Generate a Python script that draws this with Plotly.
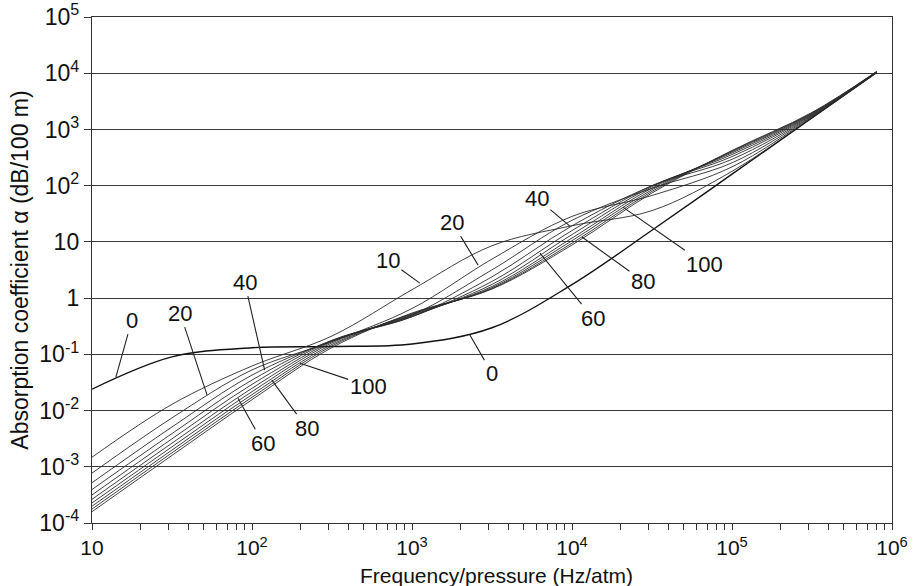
import numpy as np
import plotly.graph_objects as go

# Frequency/pressure (Hz/atm) sample points
freq = [10, 31.6, 100, 316, 1000, 3160, 1e4, 3.16e4, 1e5, 3.16e5, 8e5]

# Relative humidity (%) of each curve
humidity = [0, 10, 20, 30, 40, 50, 60, 70, 80, 90, 100]

# Absorption coefficient (dB/100 m)
rh0 = [0.024, 0.090, 0.131, 0.138, 0.153, 0.297, 1.74, 16.1, 160, 1600, 10200]
rh10 = [1.48e-3, 0.0129, 0.062, 0.212, 1.41, 8.54, 19.4, 36.0, 180, 1620, 10200]
rh20 = [7.7e-4, 7.4e-3, 0.0528, 0.169, 0.653, 4.94, 28.4, 66.9, 216, 1655, 10300]
rh30 = [5.2e-4, 5.1e-3, 0.0427, 0.175, 0.500, 3.18, 24.2, 89.7, 255, 1698, 10300]
rh40 = [3.94e-4, 3.89e-3, 0.0349, 0.178, 0.466, 2.39, 19.3, 99.6, 294, 1741, 10400]
rh50 = [3.16e-4, 3.14e-3, 0.0292, 0.175, 0.467, 1.98, 15.9, 100, 329, 1786, 10400]
rh60 = [2.64e-4, 2.63e-3, 0.0249, 0.168, 0.481, 1.75, 13.5, 96.2, 358, 1831, 10500]
rh70 = [2.27e-4, 2.26e-3, 0.0217, 0.160, 0.498, 1.61, 11.7, 90.6, 382, 1875, 10500]
rh80 = [1.99e-4, 1.98e-3, 0.0192, 0.150, 0.515, 1.53, 10.5, 84.7, 400, 1919, 10600]
rh90 = [1.77e-4, 1.77e-3, 0.0172, 0.141, 0.530, 1.48, 9.5, 79.1, 413, 1962, 10600]
rh100 = [1.59e-4, 1.59e-3, 0.0156, 0.132, 0.542, 1.45, 8.8, 74.1, 422, 2003, 10700]

series = [rh0, rh10, rh20, rh30, rh40, rh50, rh60, rh70, rh80, rh90, rh100]

# Tick labels
x_tickvals = [10, 1e2, 1e3, 1e4, 1e5, 1e6]
x_ticktext = ["10", "10<sup>2</sup>", "10<sup>3</sup>", "10<sup>4</sup>", "10<sup>5</sup>", "10<sup>6</sup>"]
y_tickvals = [1e-4, 1e-3, 1e-2, 1e-1, 1, 10, 1e2, 1e3, 1e4, 1e5]
y_ticktext = ["10<sup>-4</sup>", "10<sup>-3</sup>", "10<sup>-2</sup>", "10<sup>-1</sup>", "1", "10",
              "10<sup>2</sup>", "10<sup>3</sup>", "10<sup>4</sup>", "10<sup>5</sup>"]

# Curve labels: text, leader tip (freq, alpha), text offset in pixels
label_text = ["0", "20", "40", "60", "80", "100", "0", "10", "20", "40", "80", "60", "100"]
label_f = [14.1, 52.4, 120, 81.8, 133, 200, 2300, 1120, 2590, 9700, 11550, 6310, 20800]
label_a = [0.0394, 0.0188, 0.0524, 0.0166, 0.0348, 0.0697, 0.220, 1.85, 3.86, 19.1, 12.2, 6.3, 41.6]
label_dx = [16, -27, -20, 25, 35, 68, 22, -32, -26, -33, 61, 53, 82]
label_dy = [-57, -82, -88, 45, 48, 23, 38, -23, -43, -28, 44, 65, 57]

fig = go.Figure()
for h, vals in zip(humidity, series):
    fig.add_trace(go.Scatter(
        x=freq, y=vals, mode="lines", name=f"{h}%",
        line=dict(color="#111" if h == 0 else "#2a2a2a", width=1.4 if h == 0 else 0.9,
                  shape="spline", smoothing=1.0),
        showlegend=False, hoverinfo="skip"))

font_family = "Liberation Sans, Arial, Helvetica, sans-serif"
for t, f, a, dx, dy in zip(label_text, label_f, label_a, label_dx, label_dy):
    fig.add_annotation(x=np.log10(f), y=np.log10(a), xref="x", yref="y",
                       text=t, showarrow=True, arrowhead=0, arrowwidth=1.1,
                       arrowcolor="#222", ax=dx, ay=dy, standoff=0,
                       font=dict(size=22, color="#111", family=font_family))

# X axis title placed just below the tick labels
fig.add_annotation(text="Frequency/pressure (Hz/atm)", xref="paper", yref="paper",
                   x=0.506, y=-0.104, xanchor="center", yanchor="middle", showarrow=False,
                   font=dict(size=21, color="#111", family=font_family))

fig.update_layout(
    width=913, height=586,
    margin=dict(l=92, r=21, t=17, b=63),
    paper_bgcolor="white", plot_bgcolor="white",
    font=dict(family=font_family, color="#111", size=22),
)
fig.update_xaxes(
    type="log", range=[1, 6], tickvals=x_tickvals, ticktext=x_ticktext,
    automargin=False,
    showgrid=False, zeroline=False, showline=True, linecolor="#333", linewidth=1.4,
    mirror=True, ticks="outside", ticklen=6, tickcolor="#333", tickwidth=1.2,
    minor=dict(ticks="outside", ticklen=6, tickcolor="#333", tickwidth=1,
               tickvals=[k * 10 ** n for n in range(1, 6) for k in range(2, 10)], showgrid=False),
    tickfont=dict(size=21),
)
fig.update_yaxes(
    type="log", range=[-4, 5], tickvals=y_tickvals, ticktext=y_ticktext,
    automargin=False,
    showgrid=True, gridcolor="#3a3a3a", gridwidth=1.2, zeroline=False,
    showline=True, linecolor="#333", linewidth=1.4, mirror=True,
    ticks="outside", ticklen=7, tickcolor="#3a3a3a", tickwidth=1.2,
    tickfont=dict(size=23),
    title=dict(text="Absorption coefficient α (dB/100 m)", font=dict(size=23), standoff=4),
)

fig.write_html("out.html")
